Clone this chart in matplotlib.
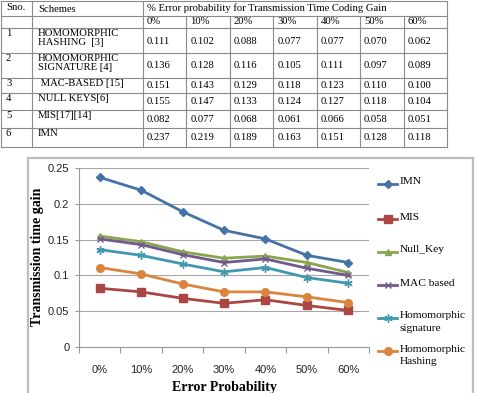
import matplotlib
matplotlib.use("Agg")
import matplotlib.pyplot as plt
from matplotlib.lines import Line2D
from matplotlib.patches import Rectangle

W, H = 478, 393

# ---------------- data ----------------
categories = ["0%", "10%", "20%", "30%", "40%", "50%", "60%"]
table_schemes = ["HOMOMORPHIC\nHASHING  [3]", "HOMOMORPHIC\nSIGNATURE [4]", " MAC-BASED [15]",
                 "NULL KEYS[6]", "MIS[17][14]", "IMN"]
hom_hashing = [0.111, 0.102, 0.088, 0.077, 0.077, 0.070, 0.062]
hom_signature = [0.136, 0.128, 0.116, 0.105, 0.111, 0.097, 0.089]
mac_based = [0.151, 0.143, 0.129, 0.118, 0.123, 0.110, 0.100]
null_keys = [0.155, 0.147, 0.133, 0.124, 0.127, 0.118, 0.104]
mis = [0.082, 0.077, 0.068, 0.061, 0.066, 0.058, 0.051]
imn = [0.237, 0.219, 0.189, 0.163, 0.151, 0.128, 0.118]
table_values = [hom_hashing, hom_signature, mac_based, null_keys, mis, imn]

legend_names = ["IMN", "MIS", "Null_Key", "MAC based", "Homomorphic\nsignature", "Homomorphic\nHashing"]
series = [imn, mis, null_keys, mac_based, hom_signature, hom_hashing]
colors = ["#4572A7", "#AA4643", "#89A54E", "#71588F", "#4198AF", "#DB843D"]
markers = ["D", "s", "^", "x", (6, 2, 0), "o"]
msizes = [4.5, 5.5, 5, 5, 6, 5.5]
yticks = [0, 0.05, 0.1, 0.15, 0.2, 0.25]
ytick_labels = ["0", "0.05", "0.1", "0.15", "0.2", "0.25"]

fig = plt.figure(figsize=(W / 100, H / 100), dpi=100)

def fx(x):
    return x / W

def fy(y):
    return 1 - y / H

def hline(x0, x1, y, c="#8a8a8a", lw=0.8):
    fig.add_artist(Line2D([fx(x0), fx(x1)], [fy(y), fy(y)], color=c, lw=lw))

def vline(x, y0, y1, c="#8a8a8a", lw=0.8):
    fig.add_artist(Line2D([fx(x), fx(x)], [fy(y0), fy(y1)], color=c, lw=lw))

# ---------------- table ----------------
serif = "Liberation Serif"
tfs = 7.7
col_x = [0.5, 32, 143, 186.4, 229.9, 273.3, 316.7, 360.1, 403.6, 447]
row_y = [0.5, 16, 28, 53, 78, 93, 110, 128, 147]

for y in row_y:
    hline(col_x[0], col_x[-1], y)
for x in col_x:
    if x in (col_x[0], col_x[1], col_x[2], col_x[-1]):
        vline(x, row_y[0], row_y[-1])
    else:
        vline(x, row_y[1], row_y[-1])

fig.text(fx(6), fy(8), "Sno.", family=serif, fontsize=tfs, va="center")
fig.text(fx(38), fy(9), "Schemes", family=serif, fontsize=tfs, va="center")
fig.text(fx(147), fy(8), "% Error probability for Transmission Time Coding Gain",
         family=serif, fontsize=tfs, va="center")
for j, c in enumerate(categories):
    fig.text(fx(col_x[2 + j] + 4), fy(22), c, family=serif, fontsize=tfs, va="center")

for i, (name, vals) in enumerate(zip(table_schemes, table_values)):
    top = row_y[2 + i]
    bot = row_y[3 + i]
    fig.text(fx(6), fy(top + 1), str(i + 1), family=serif, fontsize=tfs, va="top")
    fig.text(fx(38), fy(top + 1), name, family=serif, fontsize=tfs, va="top", linespacing=1.05)
    ymid = (top + bot) / 2 + 0.5
    for j, v in enumerate(vals):
        fig.text(fx(col_x[2 + j] + 4), fy(ymid), f"{v:.3f}", family=serif, fontsize=tfs, va="center")

# ---------------- chart frame ----------------
fig.add_artist(Rectangle((fx(28), fy(400)), fx(473) - fx(28), fy(158) - fy(400),
                         fill=False, edgecolor="#bdbdbd", lw=1.6))

ax = fig.add_axes([fx(79), fy(347), fx(369) - fx(79), fy(168) - fy(347)])
x = list(range(len(categories)))
lines = []
for s, col, mk, ms in zip(series, colors, markers, msizes):
    ln, = ax.plot(x, s, color=col, lw=2.0, marker=mk, markersize=ms,
                  markeredgecolor=col, markerfacecolor=col, markeredgewidth=1.0)
    lines.append(ln)

ax.set_xlim(-0.5, len(categories) - 0.5)
ax.set_ylim(0, 0.25)
ax.set_yticks(yticks)
ax.set_yticklabels(ytick_labels)
ax.set_xticks([i - 0.5 for i in range(len(categories) + 1)])
ax.set_xticklabels([])
ax.set_xticks(x, minor=True)
ax.set_xticklabels(categories, minor=True)
ax.tick_params(axis="x", which="major", length=4, color="#999999", width=0.8)
ax.tick_params(axis="x", which="minor", length=0, pad=13, labelsize=8)
ax.tick_params(axis="y", length=3, color="#999999", width=0.8, labelsize=8, pad=4)
for lab in ax.get_xticklabels(minor=True) + ax.get_yticklabels():
    lab.set_family("Liberation Sans")
    lab.set_color("#222222")
ax.grid(axis="y", color="#a6a6a6", lw=0.8)
ax.set_axisbelow(True)
for sp in ["top", "right"]:
    ax.spines[sp].set_visible(False)
for sp in ["left", "bottom"]:
    ax.spines[sp].set_color("#999999")
    ax.spines[sp].set_linewidth(0.8)

fig.text(fx(38), fy(257), "Transmission time gain", rotation=90, family=serif,
         fontweight="bold", fontsize=10, ha="center", va="center")
fig.text(fx(224), fy(387), "Error Probability", family=serif,
         fontweight="bold", fontsize=10, ha="center", va="center")

# ---------------- legend ----------------
leg_y = [184, 219, 252, 285, 318, 351]
for name, col, mk, ms, ly in zip(legend_names, colors, markers, msizes, leg_y):
    fig.add_artist(Line2D([fx(378), fx(397)], [fy(ly), fy(ly)], color=col, lw=2.0))
    fig.add_artist(Line2D([fx(387.5)], [fy(ly)], color=col, marker=mk, markersize=ms,
                          markeredgecolor=col, markerfacecolor=col, markeredgewidth=1.0))
    fig.text(fx(400), fy(ly - 6.5), name, family=serif, fontsize=8.2, va="top",
             linespacing=1.45)

fig.savefig("out.png", dpi=100)
